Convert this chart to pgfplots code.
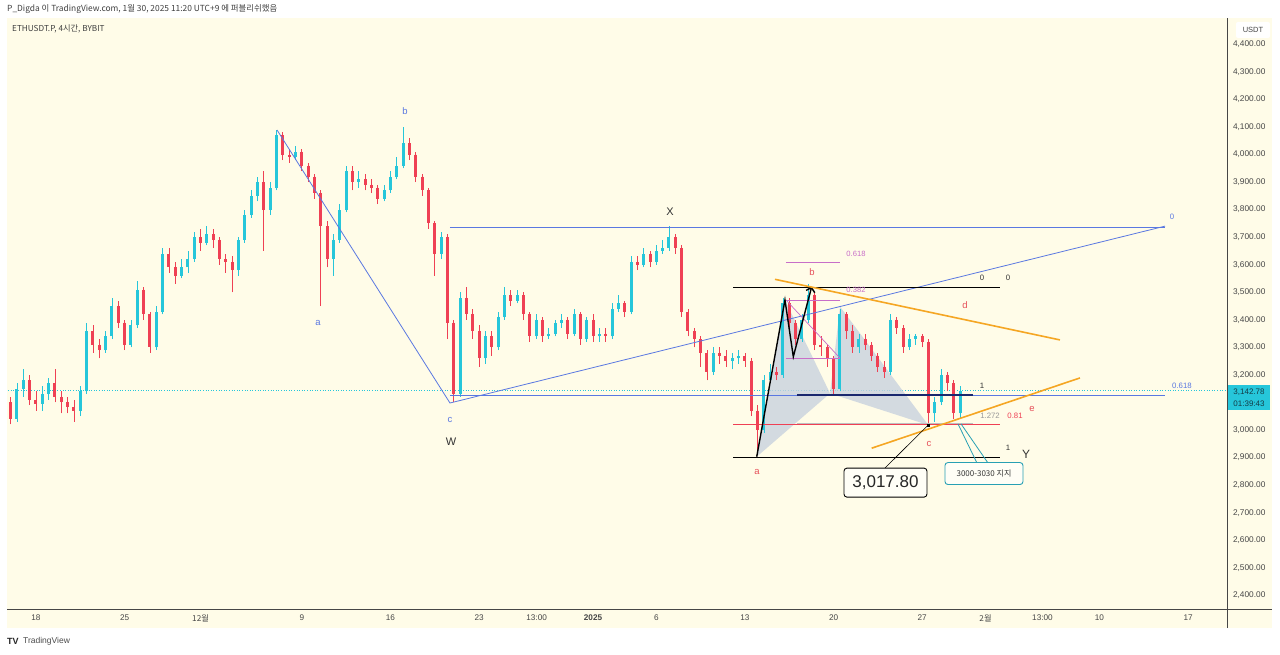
\documentclass[border=0pt]{standalone}
\usepackage{fontspec}
\setmainfont{Liberation Sans}
\newfontfamily\cjk{Noto Sans CJK KR}
\usepackage{pgfplots}
\pgfplotsset{compat=1.18}
\usepackage{pgfplotstable}
\usetikzlibrary{arrows.meta}

\definecolor{bg}{RGB}{255,252,232}
\definecolor{upc}{RGB}{38,198,218}
\definecolor{dnc}{RGB}{239,64,84}
\definecolor{wblue}{RGB}{90,120,225}
\definecolor{fibp}{RGB}{200,110,200}
\definecolor{orng}{RGB}{245,166,35}
\definecolor{lbl}{RGB}{230,80,90}
\definecolor{navy}{RGB}{25,40,110}
\definecolor{tealb}{RGB}{40,160,180}
\definecolor{axc}{RGB}{70,70,70}
\definecolor{pshade}{RGB}{200,210,222}

\pgfplotstableread{
x o h l c
-2.0 3100 3120 3020 3040
-1.5 3040 3170 3030 3150
-1.0 3150 3220 3120 3180
-0.5 3180 3200 3090 3110
0.0 3110 3140 3070 3095
0.5 3095 3160 3070 3130
1.0 3130 3190 3110 3170
1.5 3170 3220 3100 3120
2.0 3120 3140 3060 3100
2.5 3100 3120 3060 3085
3.0 3085 3110 3030 3070
3.5 3070 3160 3050 3140
4.0 3140 3390 3130 3360
4.5 3360 3380 3280 3310
5.0 3310 3330 3260 3290
5.5 3290 3360 3280 3340
6.0 3340 3480 3330 3450
6.5 3450 3470 3370 3390
7.0 3390 3400 3290 3310
7.5 3310 3400 3300 3380
8.0 3380 3540 3370 3510
8.5 3510 3520 3400 3420
9.0 3420 3430 3280 3300
9.5 3300 3450 3290 3430
10.0 3430 3660 3420 3640
10.5 3640 3660 3570 3590
11.0 3590 3610 3530 3560
11.5 3560 3620 3550 3590
12.0 3590 3650 3570 3620
12.5 3620 3720 3610 3700
13.0 3700 3730 3650 3680
13.5 3680 3740 3670 3710
14.0 3710 3730 3660 3690
14.5 3690 3700 3600 3620
15.0 3620 3640 3570 3610
15.5 3610 3630 3500 3580
16.0 3580 3700 3560 3690
16.5 3690 3800 3680 3780
17.0 3780 3870 3770 3850
17.5 3850 3920 3830 3900
18.0 3900 3940 3650 3800
18.5 3800 3900 3780 3880
19.0 3880 4090 3870 4070
19.5 4070 4080 3980 4000
20.0 4000 4020 3970 3990
20.5 3990 4030 3980 4010
21.0 4010 4020 3940 3960
21.5 3960 3970 3900 3920
22.0 3920 3930 3840 3860
22.5 3860 3870 3450 3740
23.0 3740 3760 3590 3620
23.5 3620 3710 3560 3690
24.0 3690 3820 3680 3800
24.5 3800 3960 3790 3940
25.0 3940 3960 3870 3900
25.5 3900 3940 3880 3910
26.0 3910 3930 3870 3890
26.5 3890 3910 3860 3880
27.0 3880 3890 3820 3840
27.5 3840 3890 3830 3870
28.0 3870 3940 3860 3920
28.5 3920 3990 3910 3960
29.0 3960 4100 3950 4040
29.5 4040 4060 3980 4000
30.0 4000 4010 3900 3920
30.5 3920 3930 3850 3870
31.0 3870 3880 3730 3750
31.5 3750 3760 3560 3640
32.0 3640 3720 3620 3700
32.5 3700 3710 3330 3390
33.0 3390 3400 3100 3130
33.5 3130 3500 3120 3480
34.0 3480 3520 3400 3420
34.5 3420 3440 3330 3360
35.0 3360 3380 3230 3260
35.5 3260 3360 3240 3340
36.0 3340 3360 3270 3300
36.5 3300 3430 3290 3410
37.0 3410 3520 3400 3490
37.5 3490 3510 3450 3470
38.0 3470 3510 3460 3490
38.5 3490 3500 3400 3420
39.0 3420 3430 3320 3340
39.5 3340 3420 3330 3400
40.0 3400 3410 3320 3340
40.5 3340 3370 3330 3350
41.0 3350 3400 3340 3390
41.5 3390 3420 3370 3400
42.0 3400 3410 3330 3350
42.5 3350 3440 3340 3420
43.0 3420 3430 3310 3330
43.5 3330 3410 3320 3400
44.0 3400 3420 3320 3340
44.5 3340 3370 3320 3350
45.0 3350 3370 3320 3340
45.5 3340 3460 3330 3440
46.0 3440 3490 3430 3460
46.5 3460 3470 3410 3430
47.0 3430 3630 3420 3610
47.5 3610 3630 3580 3600
48.0 3600 3660 3590 3640
48.5 3640 3650 3590 3610
49.0 3610 3670 3600 3650
49.5 3650 3690 3640 3660
50.0 3660 3740 3650 3700
50.5 3700 3710 3640 3660
51.0 3660 3670 3410 3430
51.5 3430 3440 3340 3360
52.0 3360 3370 3300 3330
52.5 3330 3340 3230 3280
53.0 3280 3290 3180 3210
53.5 3210 3300 3200 3280
54.0 3280 3300 3240 3270
54.5 3270 3290 3230 3250
55.0 3250 3280 3220 3260
55.5 3260 3290 3240 3270
56.0 3270 3280 3230 3250
56.5 3250 3260 3050 3070
57.0 3070 3090 2910 3000
57.5 3000 3200 2990 3180
58.0 3180 3240 3170 3210
58.5 3210 3230 3180 3200
59.0 3200 3480 3190 3460
59.5 3460 3480 3370 3390
60.0 3390 3400 3310 3330
60.5 3330 3420 3320 3400
61.0 3400 3530 3390 3490
61.5 3490 3500 3290 3310
62.0 3310 3340 3270 3300
62.5 3300 3310 3230 3260
63.0 3260 3270 3130 3150
63.5 3150 3440 3140 3420
64.0 3420 3430 3330 3360
64.5 3360 3380 3280 3300
65.0 3300 3350 3280 3330
65.5 3330 3350 3290 3310
66.0 3310 3320 3250 3270
66.5 3270 3280 3210 3230
67.0 3230 3250 3190 3210
67.5 3210 3420 3200 3400
68.0 3400 3410 3350 3370
68.5 3370 3380 3280 3300
69.0 3300 3350 3290 3330
69.5 3330 3350 3310 3340
70.0 3340 3350 3300 3320
70.5 3320 3330 3020 3060
71.0 3060 3120 3030 3100
71.5 3100 3220 3090 3200
72.0 3200 3210 3140 3170
72.5 3170 3180 3040 3060
73.0 3060 3160 3040 3143
}\candles

\begin{document}
\begin{tikzpicture}
\path[use as bounding box] (0,0) rectangle (1280pt,654pt);
\fill[white] (0,0) rectangle (1280pt,654pt);
\fill[bg] (7pt,26pt) rectangle (1272pt,636pt);
\begin{axis}[
  at={(8pt,45pt)}, anchor=south west, scale only axis,
  width=1217pt, height=591pt,
  xmin=-2.21, xmax=93.92, ymin=2350.3, ymax=4495.5,
  clip=false,
  axis line style={draw=none}, tick style={draw=none}, major tick length=0pt,
  ytick={2400,2500,...,4400}, yticklabel pos=right,
  scaled y ticks=false,
  yticklabel style={font=\fontsize{8.3}{9}\selectfont, text=axc, anchor=west, xshift=4.5pt,
     /pgf/number format/.cd, fixed, fixed zerofill, precision=2, 1000 sep={,}, assume math mode=true},
  xtick={0,7,13,21,28,35,39.55,44,49,56,63,70,75,79.5,84,91},
  xticklabels={18,25,{\cjk 12월},9,16,23,13:00,\textbf{2025},6,13,20,27,{\cjk 2월},13:00,10,17},
  xticklabel style={font=\fontsize{8.2}{9}\selectfont, text=axc, yshift=-2pt},
  colormap={candle}{rgb255=(239,64,84) rgb255=(38,198,218)},
  point meta min=0, point meta max=1,
]
% current price dotted line
\draw[upc, dotted, line width=0.6pt] (axis cs:-2.21,3142.78) -- (axis cs:93.92,3142.78);
% harmonic pattern shading
\fill[pshade, opacity=0.8] (axis cs:56.93,2903) -- (axis cs:59.16,3472) -- (axis cs:62.72,3133) -- cycle;
\fill[pshade, opacity=0.8] (axis cs:62.72,3133) -- (axis cs:63.51,3448) -- (axis cs:70.48,3018) -- cycle;

% candles: wicks and bodies
\addplot[mark=none, point meta={\thisrow{c}>\thisrow{o}},
  quiver={u=0, v=\thisrow{h}-\thisrow{l}, colored=mapped color,
          every arrow/.append style={line width=0.8pt}}]
  table[x=x, y=l] {\candles};
\addplot[mark=none, point meta={\thisrow{c}>\thisrow{o}},
  quiver={u=0, v=\thisrow{c}-\thisrow{o}, colored=mapped color,
          every arrow/.append style={line width=3pt}}]
  table[x=x, y=o] {\candles};

% blue W structure
\draw[wblue, line width=0.8pt] (axis cs:19.04,4089) -- (axis cs:32.70,3098) -- (axis cs:89.18,3740);
\draw[wblue, line width=0.8pt] (axis cs:32.70,3737) -- (axis cs:89.18,3737);
\draw[wblue, line width=0.8pt] (axis cs:32.70,3127) -- (axis cs:89.18,3127);
\begin{scope}[font=\fontsize{9.5}{10}\selectfont, text=wblue]
\node at (axis cs:22.27,3388) {a};
\node at (axis cs:29.15,4158) {b};
\node at (axis cs:32.70,3036) {c};
\end{scope}
\node[font=\fontsize{7.8}{9}\selectfont, text=wblue] at (axis cs:89.73,3773) {0};
\node[font=\fontsize{7.8}{9}\selectfont, text=wblue] at (axis cs:90.52,3160) {0.618};
\node[font=\fontsize{11}{12}\selectfont, text=black!80] at (axis cs:32.78,2956) {W};
\node[font=\fontsize{11}{12}\selectfont, text=black!80] at (axis cs:50.08,3791) {X};

% black fib lines
\draw[black, line width=0.8pt] (axis cs:55.06,3519) -- (axis cs:76.15,3519);
\draw[black, line width=0.8pt] (axis cs:55.06,2902) -- (axis cs:76.15,2902);
\draw[dnc, line width=0.6pt] (axis cs:55.06,3021) -- (axis cs:76.15,3021);
\draw[black!25, line width=0.6pt] (axis cs:60.11,3025) -- (axis cs:74.01,3025);
\draw[navy, line width=1.2pt] (axis cs:60.11,3127) -- (axis cs:74.01,3127);
% purple fib
\draw[fibp, line width=0.7pt] (axis cs:59.24,3609) -- (axis cs:63.51,3609);
\draw[fibp, line width=0.7pt] (axis cs:59.24,3472) -- (axis cs:63.51,3472);
\draw[fibp, line width=0.7pt] (axis cs:59.24,3261) -- (axis cs:63.51,3261);
\draw[fibp, line width=0.7pt] (axis cs:59.24,3472) -- (axis cs:63.51,3261);
\node[font=\fontsize{7.6}{8}\selectfont, text=fibp] at (axis cs:64.77,3639) {0.618};
\node[font=\fontsize{7.6}{8}\selectfont, text=fibp] at (axis cs:64.77,3508) {0.382};
% zigzag
\draw[black, line width=1.4pt, -{Straight Barb[length=4pt,width=9pt]}]
  (axis cs:56.93,2903) -- (axis cs:59.16,3472) -- (axis cs:59.82,3266) -- (axis cs:61.27,3520);
% orange channel
\draw[orng, line width=1.6pt] (axis cs:58.37,3547) -- (axis cs:80.88,3327);
\draw[orng, line width=1.6pt] (axis cs:66.01,2934) -- (axis cs:82.46,3189);
% pattern labels
\begin{scope}[font=\fontsize{9.5}{10}\selectfont, text=lbl]
\node at (axis cs:61.30,3574) {b};
\node at (axis cs:56.95,2848) {a};
\node at (axis cs:70.54,2949) {c};
\node at (axis cs:73.38,3454) {d};
\node at (axis cs:78.67,3076) {e};
\end{scope}
\node[font=\fontsize{7.8}{8}\selectfont, text=black!80] at (axis cs:74.72,3552) {0};
\node[font=\fontsize{7.8}{8}\selectfont, text=black!80] at (axis cs:76.78,3552) {0};
\node[font=\fontsize{7.8}{8}\selectfont, text=black!80] at (axis cs:76.78,2935) {1};
\node[font=\fontsize{7.8}{8}\selectfont, text=black!80] at (axis cs:74.72,3160) {1};
\node[font=\fontsize{12}{13}\selectfont, text=black!80] at (axis cs:78.20,2913) {Y};
\node[font=\fontsize{7.8}{8}\selectfont, text=black!40] at (axis cs:75.36,3051) {1.272};
\node[font=\fontsize{7.8}{8}\selectfont, text=dnc] at (axis cs:77.33,3051) {0.81};

% callout 3,017.80
\draw[black, line width=0.6pt] (axis cs:70.48,3018) -- (axis cs:67.06,2862);
\fill[black] (axis cs:70.48,3018) ++(-1.5pt,-1.5pt) rectangle ++(3pt,3pt);
\node[draw=black, line width=0.9pt, rounded corners=3pt, fill=bg!40!white,
      minimum width=83pt, minimum height=29pt, inner sep=0pt,
      font=\fontsize{17}{19}\selectfont, text=black!85] at (axis cs:67.10,2809) {3,017.80};
% callout 3000-3030
\draw[tealb, line width=0.8pt] (axis cs:72.83,3022) -- (axis cs:74.33,2880);
\draw[tealb, line width=0.8pt] (axis cs:73.07,3022) -- (axis cs:75.20,2880);
\node[draw=tealb, line width=0.9pt, rounded corners=3pt, fill=bg!40!white,
      minimum width=78pt, minimum height=22pt, inner sep=0pt,
      font=\cjk\fontsize{8}{9}\selectfont, text=black!80] at (axis cs:74.88,2842) {3000-3030 지지};
\end{axis}

% axis borders
\draw[axc, line width=0.8pt] (1227.5pt,26pt) -- (1227.5pt,636pt);
\draw[axc, line width=0.8pt] (7pt,44.5pt) -- (1272pt,44.5pt);
% USDT box
\fill[white, rounded corners=2pt] (1236pt,616pt) rectangle (1270pt,632pt);
\node[font=\fontsize{7.5}{8}\selectfont, text=axc] at (1253pt,624pt) {USDT};
% price tag
\fill[upc] (1228pt,244pt) rectangle (1270pt,269pt);
\node[font=\fontsize{8}{8}\selectfont, text={rgb,255:red,20;green,60;blue,70}] at (1249pt,262pt) {3,142.78};
\node[font=\fontsize{8}{8}\selectfont, text={rgb,255:red,20;green,60;blue,70}] at (1249pt,250pt) {01:39:43};
% header
\node[anchor=west, inner sep=0pt, font=\cjk\fontsize{8.4}{9}\selectfont, text=black!75] at (7pt,645pt)
  {P\_Digda 이 TradingView.com, 1월 30, 2025 11:20 UTC+9 에 퍼블리쉬했음};
\node[anchor=west, inner sep=0pt, font=\cjk\fontsize{8.2}{9}\selectfont, text=black!75] at (12pt,625pt)
  {ETHUSDT.P, 4시간, BYBIT};
% TradingView logo
\node[anchor=west, inner sep=0pt, font=\fontsize{9}{9}\selectfont\bfseries, text=black!85] at (7pt,13pt) {TV};
\node[anchor=west, inner sep=0pt, font=\fontsize{8.5}{9}\selectfont, text=black!70] at (23pt,13pt) {TradingView};
\end{tikzpicture}
\end{document}
